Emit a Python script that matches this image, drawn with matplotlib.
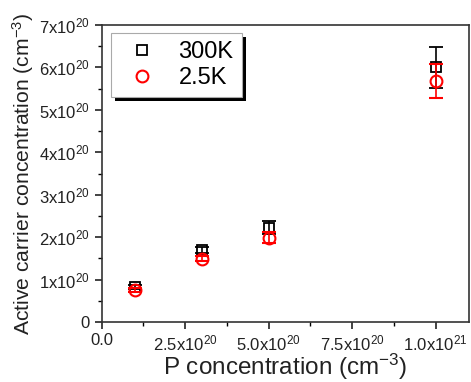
import matplotlib
matplotlib.use("Agg")
import matplotlib.pyplot as plt
from matplotlib.ticker import MultipleLocator, FixedLocator
from matplotlib.lines import Line2D
from matplotlib.patches import Rectangle
import numpy as np

plt.rcParams['font.family'] = ['Liberation Sans', 'DejaVu Sans']
plt.rcParams['mathtext.fontset'] = 'custom'
plt.rcParams['mathtext.rm'] = 'Liberation Sans'
plt.rcParams['mathtext.it'] = 'Liberation Sans'
plt.rcParams['mathtext.default'] = 'regular'

p_conc = [1e20, 3e20, 5e20, 1e21]
n_300K = [0.82e20, 1.70e20, 2.22e20, 6.0e20]
err_300K = [0.05e20, 0.07e20, 0.15e20, 0.48e20]
n_2p5K = [0.75e20, 1.49e20, 1.99e20, 5.69e20]
err_2p5K = [0.04e20, 0.06e20, 0.12e20, 0.40e20]

xticks = [0, 2.5e20, 5e20, 7.5e20, 1e21]
xticklabels = ['0.0', r'2.5x10$^{20}$', r'5.0x10$^{20}$', r'7.5x10$^{20}$', r'1.0x10$^{21}$']
yticks = [0, 1e20, 2e20, 3e20, 4e20, 5e20, 6e20, 7e20]
yticklabels = ['0'] + [r'%dx10$^{20}$' % i for i in range(1, 8)]

fig = plt.figure(figsize=(4.71, 3.82), dpi=100)
ax = fig.add_axes([101.7/471, 1 - 322/382, (469 - 101.7)/471, (322 - 25)/382])

ax.errorbar(p_conc, n_300K, yerr=err_300K, fmt='s', mfc='none', mec='black',
            ecolor='black', ms=7, mew=1.3, capsize=5, elinewidth=1.2, capthick=1.2,
            zorder=3)
ax.errorbar(p_conc, n_2p5K, yerr=err_2p5K, fmt='o', mfc='none', mec='red',
            ecolor='red', ms=8.5, mew=1.5, capsize=5, elinewidth=1.2, capthick=1.2,
            zorder=4)

ax.set_xlim(0, 1.1e21)
ax.set_ylim(0, 7e20)
ax.xaxis.set_major_locator(FixedLocator(xticks))
ax.set_xticklabels(xticklabels)
ax.xaxis.set_minor_locator(MultipleLocator(1.25e20))
ax.yaxis.set_major_locator(FixedLocator(yticks))
ax.set_yticklabels(yticklabels)
ax.yaxis.set_minor_locator(MultipleLocator(0.5e20))

ax.tick_params(which='major', direction='out', length=5, width=1.2, labelsize=12,
               top=False, right=False, colors='#222222', labelcolor='#222222')
ax.tick_params(which='minor', direction='out', length=3, width=1.0, top=False, right=False)
ax.tick_params(axis='x', pad=3)
for s in ax.spines.values():
    s.set_linewidth(1.2)
    s.set_color('#333333')

ax.set_xlabel(r'P concentration (cm$^{-3}$)', fontsize=17.5, labelpad=-1, color='#222222')
ax.set_ylabel(r'Active carrier concentration (cm$^{-3}$)', fontsize=15.2, labelpad=2, color='#222222')

handles = [Line2D([], [], ls='none', marker='s', mfc='none', mec='black', ms=7, mew=1.3),
           Line2D([], [], ls='none', marker='o', mfc='none', mec='red', ms=8.5, mew=1.5)]
leg = ax.legend(handles, ['300K', '2.5K'], loc='upper left',
                bbox_to_anchor=(9.5/367.3, 1 - 8/297), fontsize=17,
                frameon=True, fancybox=False, shadow=False, framealpha=1,
                handletextpad=0.6, borderpad=0.35, labelspacing=0.15, handlelength=1.9,
                borderaxespad=0)
leg.get_frame().set_edgecolor('#aaaaaa')
leg.get_frame().set_facecolor('white')
leg.get_frame().set_linewidth(0.8)
leg.set_zorder(10)

fig.canvas.draw()
bb = leg.get_window_extent()
off = 4
shadow = Rectangle((bb.x0 + off, bb.y0 - off), bb.width, bb.height,
                   transform=None, facecolor='black', edgecolor='none', zorder=9)
ax.add_artist(shadow)

fig.savefig('out.png', dpi=100)
